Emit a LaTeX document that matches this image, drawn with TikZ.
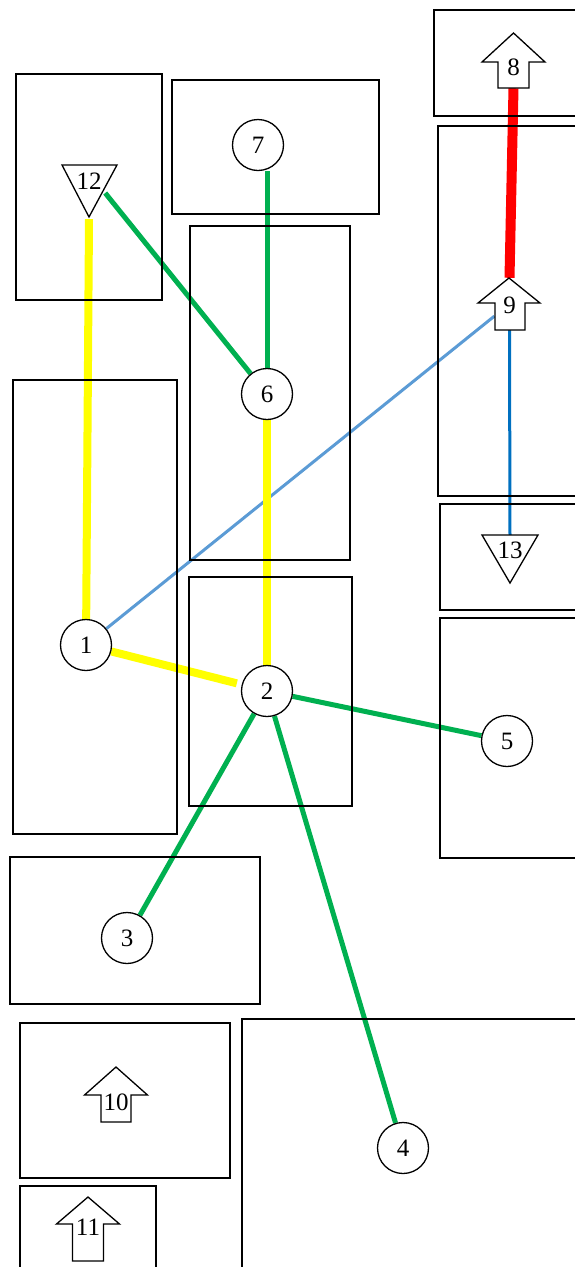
\documentclass[tikz,border=0pt]{standalone}
\usepackage{fontspec}
\setmainfont{Liberation Serif}
\usetikzlibrary{calc}
\pgfdeclarelayer{edges}
\pgfdeclarelayer{boxes}
\pgfsetlayers{edges,boxes,main}
\definecolor{cyel}{HTML}{FFFF00}
\definecolor{cgrn}{HTML}{00B050}
\definecolor{cred}{HTML}{FF0000}
\definecolor{cblu}{HTML}{0070C0}
\definecolor{clbl}{HTML}{5B9BD5}
\begin{document}
\begin{tikzpicture}[x=1pt,y=-1pt,
  circ/.style={circle, draw=black, line width=1.3pt, fill=white, minimum size=51pt, inner sep=0pt, font=\fontsize{25}{25}\selectfont},
  lab/.style={draw=none, inner sep=0pt, anchor=base, font=\fontsize{25}{25}\selectfont},
  shp/.style={draw=black, line width=1.3pt, fill=white, line join=miter},
  box/.style={draw=black, line width=1.3pt},
  ylw/.style={draw=cyel, line width=8pt},
  grn/.style={draw=cgrn, line width=5pt},
  redl/.style={draw=cred, line width=10pt},
  blued/.style={draw=cblu, line width=3pt},
  bluel/.style={draw=clbl, line width=3pt}]
\useasboundingbox (0,0) rectangle (574,1267);
\clip (0,0) rectangle (574,1267);

% boxes
\begin{pgfonlayer}{boxes}
\draw[box] (434,10) rectangle (600,116);
\draw[box] (16,74) rectangle (162,300);
\draw[box] (172,80) rectangle (379,214);
\draw[box] (190,226) rectangle (350,560);
\draw[box] (438,126) rectangle (600,496);
\draw[box] (440,504) rectangle (600,610);
\draw[box] (13,380) rectangle (177,834);
\draw[box] (189,577) rectangle (352,806);
\draw[box] (440,618) rectangle (600,858);
\draw[box] (10,857) rectangle (260,1004);
\draw[box] (20,1023) rectangle (230,1178);
\draw[box] (242,1019) rectangle (600,1290);
\draw[box] (20,1186) rectangle (156,1290);
\end{pgfonlayer}

% circle nodes
\node[circ] (n1) at (86,645) {1};
\node[circ] (n2) at (267,691) {2};
\node[circ] (n3) at (127,938) {3};
\node[circ] (n4) at (403,1148) {4};
\node[circ] (n5) at (507,741) {5};
\node[circ] (n6) at (267,394) {6};
\node[circ] (n7) at (258,145) {7};

% arrow and triangle outlines
\draw[shp] (513.5,33) -- (545,62) -- (529,62) -- (529,88) -- (498,88) -- (498,62) -- (482,62) -- cycle;
\draw[shp] (509,278) -- (540,303) -- (525,303) -- (525,330) -- (495,330) -- (495,303) -- (478,303) -- cycle;
\draw[shp] (116,1067) -- (147.5,1095) -- (131,1095) -- (131,1122) -- (101,1122) -- (101,1095) -- (84.5,1095) -- cycle;
\draw[shp] (88,1197) -- (119.5,1224) -- (103.5,1224) -- (103.5,1261) -- (72.5,1261) -- (72.5,1224) -- (56.5,1224) -- cycle;
\draw[shp] (62,165) -- (117,165) -- (89,217) -- cycle;
\draw[shp] (482,535) -- (538,535) -- (510,583) -- cycle;

% labelled shape nodes
\node[lab, minimum width=31pt, text height=42pt, text depth=13pt] (n8) at (513.5,75) {8};
\node[lab, minimum width=30pt, text height=35pt, text depth=17pt] (n9) at (509.5,313) {9};
\node[lab, minimum width=30pt, text height=43pt, text depth=12pt] (n10) at (116,1110) {10};
\node[lab, minimum width=31pt, text height=38pt, text depth=26pt] (n11) at (88,1235) {11};
\node[lab, minimum width=32pt, text height=22pt, text depth=30pt] (n12) at (89,189) {12};
\node[lab, minimum width=32pt, text height=22pt, text depth=26pt] (n13) at (510,558) {13};

% connectors
\begin{pgfonlayer}{edges}
\draw[redl] (n8.south) -- (n9.north);
\draw[blued] (n9.south) -- (n13.north);
\draw[bluel] (n1) -- (n9);
\draw[ylw] (n12.south) -- (n1);
\draw[grn] (n12.east) -- (n6);
\draw[grn] (n6) -- (n6 |- n7.south);
\draw[ylw] (n6) -- (n2);
\draw[ylw, shorten >=5pt] (n1) -- (n2);
\draw[grn] (n2) -- (n5);
\draw[grn] (n2) -- (n3);
\draw[grn] (n2) -- (n4);
\end{pgfonlayer}
\end{tikzpicture}
\end{document}
